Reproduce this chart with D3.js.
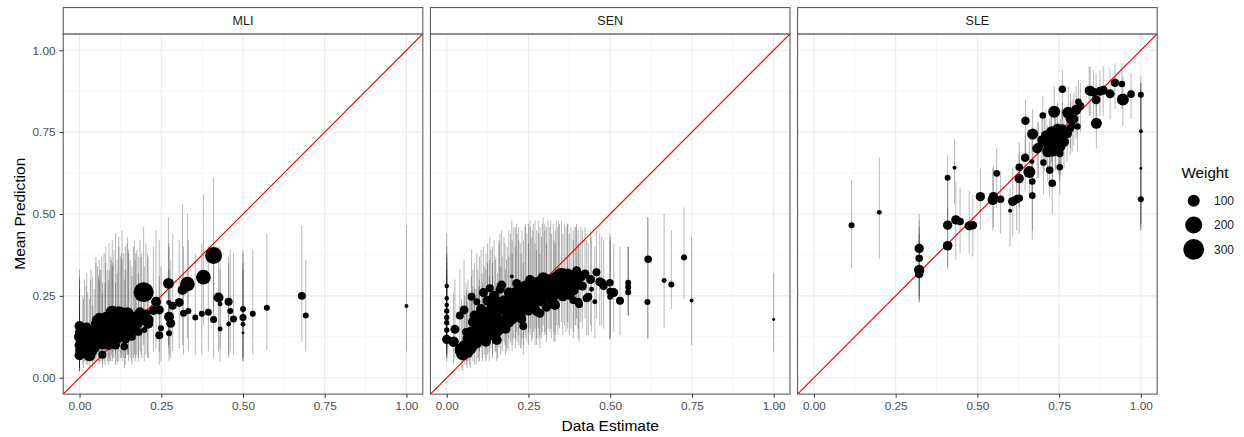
<!DOCTYPE html>
<html><head><meta charset="utf-8">
<script src="https://cdn.jsdelivr.net/npm/d3@7"></script>
<style>body{margin:0;background:#fff}svg{display:block}</style>
</head><body><svg id="c" width="1244" height="437"></svg>
<script>
const panelNames = ["MLI", "SEN", "SLE"];
const xTicks = [0, 0.25, 0.5, 0.75, 1];
const yTicks = [0, 0.25, 0.5, 0.75, 1];
const minorBreaks = [0.125, 0.375, 0.625, 0.875];
const legendWeights = [100, 200, 300];
const xTitle = "Data Estimate";
const yTitle = "Mean Prediction";
const legendTitle = "Weight";

// [data estimate, mean prediction, weight, lower, upper]
const mliPoints = [
[0.000,0.158,70,0.03,0.33],[0.000,0.140,56,0.03,0.30],[0.000,0.125,84,0.02,0.31],[0.000,0.100,70,0.03,0.27],
[0.000,0.085,56,0.02,0.25],[0.000,0.069,70,0.02,0.22],[0.010,0.115,84,0.04,0.25],[0.015,0.150,70,0.05,0.30],
[0.020,0.130,84,0.04,0.28],[0.025,0.100,70,0.04,0.26],[0.030,0.069,100,0.03,0.24],[0.035,0.120,100,0.05,0.33],
[0.040,0.145,56,0.05,0.31],[0.040,0.080,56,0.03,0.22],[0.045,0.090,70,0.04,0.27],[0.050,0.130,100,0.05,0.35],
[0.050,0.165,70,0.06,0.37],[0.055,0.176,84,0.07,0.34],[0.060,0.110,84,0.04,0.30],[0.060,0.185,56,0.08,0.36],
[0.065,0.150,100,0.05,0.33],[0.070,0.100,56,0.04,0.29],[0.070,0.070,44,0.03,0.26],[0.075,0.135,120,0.05,0.38],
[0.080,0.160,100,0.06,0.35],[0.080,0.185,70,0.07,0.40],[0.085,0.120,84,0.05,0.33],[0.089,0.100,70,0.04,0.30],
[0.090,0.170,120,0.06,0.41],[0.095,0.145,136,0.05,0.37],[0.100,0.200,120,0.08,0.42],[0.100,0.130,100,0.05,0.34],
[0.105,0.165,136,0.06,0.39],[0.110,0.185,120,0.07,0.44],[0.110,0.100,56,0.04,0.29],[0.115,0.120,84,0.04,0.32],
[0.120,0.155,136,0.05,0.40],[0.120,0.200,100,0.08,0.43],[0.125,0.175,120,0.06,0.37],[0.130,0.140,100,0.05,0.36],
[0.130,0.195,120,0.07,0.45],[0.135,0.160,100,0.06,0.38],[0.137,0.095,40,0.03,0.30],[0.140,0.120,70,0.04,0.33],
[0.145,0.185,100,0.07,0.41],[0.147,0.197,100,0.07,0.43],[0.150,0.155,84,0.05,0.38],[0.155,0.170,84,0.06,0.36],
[0.160,0.140,70,0.05,0.34],[0.160,0.125,44,0.04,0.31],[0.165,0.180,84,0.06,0.40],[0.168,0.181,70,0.07,0.42],
[0.170,0.155,70,0.05,0.36],[0.175,0.190,56,0.07,0.39],[0.180,0.165,56,0.06,0.37],[0.180,0.140,44,0.05,0.32],
[0.185,0.200,70,0.08,0.42],[0.190,0.175,56,0.06,0.38],
[0.012,0.090,70,0.03,0.24],[0.022,0.155,56,0.05,0.32],[0.033,0.140,84,0.05,0.30],[0.058,0.125,100,0.05,0.31],
[0.068,0.175,84,0.07,0.37],[0.078,0.110,84,0.04,0.29],[0.092,0.125,100,0.05,0.33],[0.102,0.150,120,0.06,0.35],
[0.115,0.145,120,0.05,0.36],[0.128,0.155,120,0.06,0.38],[0.140,0.170,100,0.06,0.40],[0.150,0.185,84,0.07,0.39],
[0.172,0.170,70,0.06,0.38],[0.188,0.185,56,0.07,0.37],[0.098,0.180,100,0.07,0.36],[0.062,0.140,84,0.05,0.33],
[0.196,0.261,280,0.10,0.46],[0.198,0.146,25,0.05,0.34],[0.203,0.195,56,0.07,0.41],[0.208,0.176,100,0.06,0.38],
[0.210,0.165,70,0.06,0.37],[0.226,0.205,56,0.08,0.40],[0.234,0.232,70,0.09,0.45],[0.244,0.207,56,0.08,0.42],
[0.244,0.130,44,0.04,0.31],[0.249,0.151,25,0.05,0.34],[0.272,0.288,80,0.10,0.49],[0.273,0.230,17,0.09,0.41],
[0.274,0.186,70,0.07,0.40],[0.279,0.166,56,0.06,0.36],[0.274,0.136,25,0.05,0.33],[0.285,0.220,44,0.08,0.44],
[0.305,0.230,56,0.09,0.42],[0.315,0.268,70,0.10,0.53],[0.318,0.197,34,0.07,0.40],[0.330,0.286,150,0.12,0.50],
[0.333,0.204,25,0.08,0.42],[0.354,0.184,25,0.07,0.38],[0.374,0.195,25,0.07,0.41],[0.379,0.307,150,0.16,0.56],
[0.394,0.200,34,0.08,0.40],[0.410,0.373,200,0.20,0.61],[0.410,0.178,34,0.06,0.36],[0.425,0.245,70,0.08,0.40],
[0.430,0.225,17,0.09,0.40],[0.430,0.149,17,0.05,0.33],[0.456,0.232,45,0.07,0.37],[0.456,0.164,17,0.06,0.35],
[0.461,0.204,25,0.08,0.39],[0.471,0.179,34,0.07,0.38],[0.500,0.210,25,0.06,0.39],[0.500,0.184,34,0.06,0.38],
[0.500,0.163,17,0.05,0.35],[0.500,0.137,6,0.05,0.33],[0.530,0.195,25,0.07,0.39],[0.573,0.214,25,0.085,0.44],
[0.680,0.250,44,0.11,0.465],[0.692,0.190,25,0.08,0.36],[1.000,0.219,11,0.08,0.465]
];

const senPoints = [
[0.000,0.280,14,0.10,0.44],[0.000,0.243,14,0.09,0.40],[0.000,0.222,14,0.08,0.38],[0.000,0.204,20,0.07,0.37],
[0.000,0.184,20,0.07,0.35],[0.000,0.168,20,0.06,0.33],[0.000,0.146,20,0.06,0.31],[0.000,0.117,60,0.05,0.28],
[0.021,0.110,75,0.04,0.26],[0.025,0.148,56,0.06,0.30],[0.040,0.190,44,0.07,0.33],[0.049,0.074,130,0.02,0.21],
[0.053,0.207,56,0.08,0.36],[0.059,0.140,44,0.05,0.29],
[0.045,0.085,130,0.03,0.24],[0.055,0.095,120,0.04,0.25],[0.061,0.095,100,0.04,0.27],[0.065,0.120,84,0.05,0.30],
[0.070,0.105,100,0.04,0.26],[0.075,0.140,84,0.06,0.31],[0.076,0.247,44,0.12,0.39],[0.080,0.170,70,0.07,0.33],
[0.080,0.120,100,0.05,0.28],[0.085,0.190,70,0.08,0.35],[0.090,0.110,120,0.04,0.27],[0.092,0.232,34,0.11,0.38],
[0.095,0.150,100,0.06,0.33],[0.100,0.130,120,0.05,0.30],[0.100,0.180,84,0.08,0.37],[0.105,0.210,70,0.09,0.39],
[0.110,0.120,100,0.05,0.29],[0.112,0.260,56,0.13,0.40],[0.115,0.160,120,0.07,0.34],[0.120,0.200,84,0.09,0.38],
[0.120,0.145,100,0.06,0.33],[0.125,0.235,70,0.11,0.41],[0.130,0.130,84,0.05,0.31],[0.132,0.273,44,0.14,0.43],
[0.130,0.180,100,0.08,0.36],[0.140,0.155,120,0.07,0.35],[0.140,0.220,84,0.10,0.40],[0.145,0.250,70,0.12,0.42],
[0.150,0.190,100,0.08,0.37],[0.153,0.115,70,0.05,0.29],[0.155,0.140,70,0.06,0.32],[0.160,0.210,84,0.09,0.41],
[0.163,0.270,56,0.13,0.44],[0.168,0.283,56,0.14,0.45],[0.170,0.170,100,0.08,0.37],[0.175,0.235,84,0.11,0.43],
[0.180,0.150,70,0.07,0.33],[0.183,0.176,56,0.08,0.36],[0.185,0.200,100,0.09,0.40],[0.190,0.260,70,0.12,0.45],
[0.199,0.309,11,0.16,0.48],[0.200,0.220,100,0.10,0.42],[0.200,0.180,84,0.08,0.38],[0.205,0.250,84,0.12,0.46],
[0.210,0.195,70,0.09,0.40],[0.214,0.288,56,0.14,0.47],[0.215,0.235,100,0.11,0.44],[0.220,0.270,70,0.13,0.46],
[0.225,0.200,84,0.09,0.41],[0.230,0.255,100,0.12,0.45],[0.234,0.158,44,0.07,0.35],[0.235,0.220,84,0.10,0.42],
[0.240,0.280,84,0.14,0.47],[0.245,0.240,100,0.11,0.44],[0.250,0.205,70,0.10,0.41],[0.255,0.298,70,0.15,0.48],
[0.255,0.260,100,0.13,0.46],[0.260,0.230,84,0.11,0.43],[0.265,0.275,84,0.14,0.47],[0.270,0.210,70,0.10,0.41],
[0.275,0.202,56,0.10,0.39],[0.275,0.250,100,0.12,0.45],[0.280,0.290,100,0.15,0.48],[0.285,0.197,56,0.09,0.38],
[0.285,0.265,84,0.13,0.46],[0.290,0.235,84,0.12,0.43],[0.295,0.304,100,0.16,0.49],[0.300,0.280,120,0.14,0.47],
[0.300,0.250,84,0.13,0.45],[0.305,0.215,56,0.11,0.41],[0.310,0.295,136,0.15,0.48],[0.315,0.265,100,0.14,0.46],
[0.320,0.240,84,0.12,0.44],[0.326,0.278,100,0.14,0.47],[0.328,0.227,56,0.11,0.42],[0.331,0.222,70,0.11,0.41],
[0.335,0.300,170,0.16,0.48],[0.340,0.260,100,0.13,0.46],[0.345,0.285,120,0.15,0.47],[0.351,0.309,210,0.17,0.48],
[0.355,0.250,84,0.13,0.44],[0.360,0.300,136,0.16,0.47],[0.365,0.275,100,0.14,0.46],[0.370,0.315,100,0.17,0.47],
[0.375,0.255,84,0.13,0.44],[0.380,0.290,100,0.15,0.46],[0.387,0.268,84,0.14,0.45],[0.387,0.237,44,0.12,0.42],
[0.392,0.293,84,0.16,0.46],[0.397,0.327,56,0.18,0.47],[0.402,0.232,44,0.12,0.41],[0.405,0.225,44,0.11,0.40],
[0.410,0.310,84,0.17,0.46],[0.415,0.280,56,0.15,0.45],[0.423,0.317,56,0.18,0.46],[0.428,0.243,44,0.13,0.42],
[0.433,0.247,44,0.13,0.41],[0.443,0.270,17,0.14,0.43],[0.453,0.232,17,0.12,0.40],[0.458,0.322,44,0.18,0.45],
[0.468,0.293,56,0.16,0.44],[0.474,0.290,56,0.16,0.43],[0.480,0.280,44,0.15,0.42],[0.499,0.290,40,0.115,0.44],
[0.500,0.263,40,0.12,0.43],[0.500,0.247,25,0.12,0.42],[0.511,0.260,56,0.14,0.41],[0.530,0.235,44,0.13,0.40],
[0.555,0.290,25,0.19,0.40],[0.555,0.276,25,0.19,0.40],[0.555,0.261,25,0.19,0.40],
[0.062,0.080,120,0.03,0.23],[0.072,0.092,120,0.03,0.25],[0.085,0.105,100,0.04,0.27],[0.098,0.115,100,0.05,0.28],
[0.108,0.140,100,0.06,0.32],[0.125,0.160,120,0.07,0.35],[0.135,0.200,100,0.09,0.39],[0.148,0.170,120,0.08,0.36],
[0.160,0.230,84,0.10,0.42],[0.165,0.150,84,0.07,0.34],[0.178,0.210,100,0.10,0.41],[0.190,0.170,84,0.08,0.37],
[0.195,0.240,100,0.11,0.44],[0.210,0.260,84,0.12,0.46],[0.220,0.215,100,0.10,0.42],[0.228,0.180,70,0.09,0.38],
[0.240,0.260,100,0.12,0.46],[0.250,0.280,100,0.14,0.47],[0.262,0.250,100,0.12,0.45],[0.270,0.290,84,0.15,0.48],
[0.282,0.240,100,0.12,0.44],[0.292,0.270,120,0.14,0.47],[0.305,0.260,100,0.13,0.46],[0.318,0.290,136,0.15,0.48],
[0.332,0.255,84,0.13,0.45],[0.342,0.300,150,0.16,0.48],[0.370,0.290,120,0.15,0.47],[0.395,0.305,84,0.16,0.46],
[0.402,0.285,70,0.15,0.45],[0.440,0.300,56,0.16,0.45],[0.120,0.110,70,0.05,0.28],[0.140,0.130,70,0.06,0.31],
[0.614,0.231,25,0.12,0.49],[0.616,0.362,40,0.12,0.49],[0.665,0.297,17,0.15,0.50],[0.687,0.285,25,0.21,0.45],
[0.726,0.367,25,0.24,0.52],[0.749,0.236,11,0.10,0.43],[1.000,0.178,6,0.08,0.32]
];

const slePoints = [
[0.115,0.466,25,0.334,0.604],[0.200,0.505,17,0.362,0.673],[0.322,0.395,60,0.232,0.500],[0.322,0.365,40,0.250,0.480],
[0.322,0.329,75,0.240,0.460],[0.322,0.317,50,0.230,0.440],[0.409,0.403,65,0.330,0.520],[0.409,0.466,60,0.340,0.620],
[0.409,0.611,25,0.450,0.680],[0.430,0.641,11,0.530,0.730],[0.434,0.482,60,0.360,0.600],[0.447,0.477,40,0.380,0.580],
[0.475,0.464,60,0.380,0.570],[0.486,0.466,50,0.370,0.560],[0.509,0.553,60,0.450,0.640],[0.547,0.543,75,0.450,0.640],
[0.549,0.553,60,0.460,0.650],[0.559,0.624,30,0.520,0.700],[0.571,0.545,40,0.440,0.630],[0.600,0.510,11,0.400,0.580],
[0.608,0.538,60,0.430,0.640],[0.620,0.545,50,0.450,0.620],[0.628,0.548,40,0.440,0.640],[0.628,0.608,60,0.520,0.690],
[0.628,0.643,40,0.550,0.720],[0.646,0.672,50,0.570,0.740],[0.647,0.785,50,0.680,0.850],[0.659,0.628,100,0.550,0.720],
[0.667,0.660,17,0.560,0.740],[0.668,0.599,30,0.450,0.660],[0.668,0.556,30,0.420,0.650],[0.669,0.744,84,0.660,0.820],
[0.683,0.700,70,0.610,0.780],[0.687,0.704,56,0.610,0.780],[0.697,0.726,56,0.640,0.800],[0.700,0.801,30,0.710,0.860],
[0.702,0.657,30,0.560,0.750],[0.710,0.740,70,0.650,0.820],[0.715,0.690,84,0.600,0.770],[0.721,0.634,40,0.550,0.730],
[0.721,0.711,100,0.630,0.790],[0.727,0.751,84,0.660,0.830],[0.729,0.594,40,0.500,0.680],[0.730,0.690,70,0.610,0.770],
[0.735,0.812,100,0.730,0.890],[0.738,0.726,120,0.640,0.810],[0.745,0.760,70,0.680,0.840],[0.748,0.700,84,0.620,0.780],
[0.752,0.685,40,0.600,0.770],[0.752,0.643,30,0.560,0.730],[0.754,0.706,70,0.620,0.790],[0.758,0.736,100,0.650,0.820],
[0.760,0.881,40,0.790,0.940],[0.765,0.720,70,0.640,0.800],[0.774,0.746,70,0.660,0.830],[0.778,0.809,100,0.720,0.890],
[0.784,0.762,44,0.680,0.840],[0.790,0.770,34,0.690,0.850],[0.795,0.790,56,0.710,0.870],[0.802,0.818,70,0.730,0.890],
[0.806,0.767,30,0.690,0.840],[0.809,0.843,30,0.760,0.910],[0.842,0.877,56,0.800,0.950],[0.845,0.876,70,0.800,0.950],
[0.855,0.872,56,0.790,0.940],[0.863,0.849,56,0.770,0.930],[0.864,0.777,84,0.700,0.860],[0.875,0.875,56,0.800,0.940],
[0.885,0.878,56,0.800,0.950],[0.906,0.867,56,0.790,0.940],[0.921,0.901,50,0.820,0.960],[0.942,0.897,30,0.820,0.960],
[0.945,0.850,100,0.770,0.920],[0.970,0.866,40,0.790,0.930],
[0.725,0.735,84,0.650,0.810],[0.740,0.710,84,0.630,0.790],[0.705,0.720,56,0.630,0.800],[0.760,0.760,56,0.680,0.840],
[0.785,0.790,70,0.700,0.870],[0.815,0.830,44,0.750,0.900],
[1.000,0.864,25,0.450,0.920],[1.000,0.753,11,0.460,0.900],[1.000,0.639,6,0.470,0.880],[1.000,0.545,25,0.451,0.900]
];

const panelData = [mliPoints, senPoints, slePoints];

// ---------- layout ----------
const svg = d3.select("#c");
const font = "'Liberation Sans', Arial, Helvetica, sans-serif";
const panelLefts = [63.2, 430.4, 797.6];
const panelW = 359.6;
const plotTop = 33.9, plotBottom = 394.1, stripTop = 7.6;

const yScale = d3.scaleLinear().domain([-0.05, 1.05]).range([plotBottom, plotTop]);
const rScale = d3.scaleSqrt().domain([0, 300]).range([0, 10.4]);

panelNames.forEach((name, i) => {
  const left = panelLefts[i];
  const xScale = d3.scaleLinear().domain([-0.05, 1.05]).range([left, left + panelW]);
  const g = svg.append("g");
  const clipId = "clip" + i;
  svg.append("clipPath").attr("id", clipId).append("rect")
    .attr("x", left).attr("y", plotTop).attr("width", panelW).attr("height", plotBottom - plotTop);

  g.append("rect").attr("x", left).attr("y", plotTop).attr("width", panelW)
    .attr("height", plotBottom - plotTop).attr("fill", "#fff");

  g.selectAll(".mx").data(minorBreaks).join("line")
    .attr("x1", d => xScale(d)).attr("x2", d => xScale(d))
    .attr("y1", plotTop).attr("y2", plotBottom)
    .attr("stroke", "#f2f2f2").attr("stroke-width", 0.6);
  g.selectAll(".my").data(minorBreaks).join("line")
    .attr("y1", d => yScale(d)).attr("y2", d => yScale(d))
    .attr("x1", left).attr("x2", left + panelW)
    .attr("stroke", "#f2f2f2").attr("stroke-width", 0.6);
  g.selectAll(".gx").data(xTicks).join("line")
    .attr("x1", d => xScale(d)).attr("x2", d => xScale(d))
    .attr("y1", plotTop).attr("y2", plotBottom)
    .attr("stroke", "#ebebeb").attr("stroke-width", 1.1);
  g.selectAll(".gy").data(yTicks).join("line")
    .attr("y1", d => yScale(d)).attr("y2", d => yScale(d))
    .attr("x1", left).attr("x2", left + panelW)
    .attr("stroke", "#ebebeb").attr("stroke-width", 1.1);

  const data = panelData[i];
  const inner = g.append("g").attr("clip-path", `url(#${clipId})`);

  inner.selectAll(".eb").data(data).join("line")
    .attr("x1", d => xScale(d[0])).attr("x2", d => xScale(d[0]))
    .attr("y1", d => yScale(d[3])).attr("y2", d => yScale(d[4]))
    .attr("stroke", "#000").attr("stroke-opacity", 0.28).attr("stroke-width", 1);

  inner.append("line")
    .attr("x1", xScale(-0.05)).attr("y1", yScale(-0.05))
    .attr("x2", xScale(1.05)).attr("y2", yScale(1.05))
    .attr("stroke", "#ff0000").attr("stroke-width", 1.2);

  inner.selectAll(".pt").data(data).join("circle")
    .attr("cx", d => xScale(d[0])).attr("cy", d => yScale(d[1]))
    .attr("r", d => rScale(d[2])).attr("fill", "#000");

  g.append("rect").attr("x", left).attr("y", plotTop).attr("width", panelW)
    .attr("height", plotBottom - plotTop).attr("fill", "none")
    .attr("stroke", "#4d4d4d").attr("stroke-width", 1);

  g.append("rect").attr("x", left).attr("y", stripTop).attr("width", panelW)
    .attr("height", plotTop - stripTop).attr("fill", "#fff")
    .attr("stroke", "#4d4d4d").attr("stroke-width", 1);
  g.append("text").attr("x", left + panelW / 2).attr("y", (stripTop + plotTop) / 2 + 4.3)
    .attr("text-anchor", "middle").attr("font-family", font).attr("font-size", 12.5)
    .attr("fill", "#1a1a1a").text(name);

  const xAxis = d3.axisBottom(xScale).tickValues(xTicks).tickFormat(d3.format(".2f"))
    .tickSize(3.7).tickPadding(3.5);
  const ax = g.append("g").attr("transform", `translate(0,${plotBottom})`).call(xAxis);
  ax.select(".domain").remove();
  ax.selectAll(".tick line").attr("stroke", "#333");
  ax.selectAll(".tick text").attr("font-family", font).attr("font-size", 11.8).attr("fill", "#4d4d4d");

  if (i === 0) {
    const yAxis = d3.axisLeft(yScale).tickValues(yTicks).tickFormat(d3.format(".2f"))
      .tickSize(3.7).tickPadding(4);
    const ay = g.append("g").attr("transform", `translate(${left},0)`).call(yAxis);
    ay.select(".domain").remove();
    ay.selectAll(".tick line").attr("stroke", "#333");
    ay.selectAll(".tick text").attr("font-family", font).attr("font-size", 11.8).attr("fill", "#4d4d4d");
  }
});

svg.append("text").attr("x", panelLefts[1] + panelW / 2).attr("y", 430.5)
  .attr("text-anchor", "middle").attr("font-family", font).attr("font-size", 15.5)
  .attr("fill", "#000").text(xTitle);
svg.append("text").attr("transform", `translate(24.8,${(plotTop + plotBottom) / 2 - 0.3}) rotate(-90)`)
  .attr("text-anchor", "middle").attr("font-family", font).attr("font-size", 15.5)
  .attr("fill", "#000").text(yTitle);

const lg = svg.append("g");
lg.append("text").attr("x", 1181.5).attr("y", 178).attr("font-family", font)
  .attr("font-size", 15.2).attr("fill", "#000").text(legendTitle);
const keyY = d3.scalePoint().domain(legendWeights).range([200.7, 249.3]);
lg.selectAll(".k").data(legendWeights).join("circle")
  .attr("cx", 1193.7).attr("cy", d => keyY(d)).attr("r", d => rScale(d)).attr("fill", "#000");
lg.selectAll(".kl").data(legendWeights).join("text")
  .attr("x", 1214).attr("y", d => keyY(d) + 4.3).attr("font-family", font)
  .attr("font-size", 12).attr("fill", "#1a1a1a").text(d => d);
</script></body></html>
